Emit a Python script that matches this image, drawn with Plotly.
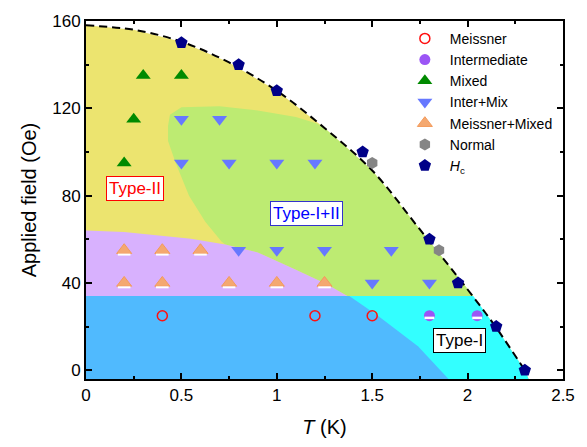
import plotly.graph_objects as go
import numpy as np

# ---------------- data ----------------
meissner_T = [0.4, 1.2, 1.5]
meissner_H = [25, 25, 25]

inter_T = [1.8, 2.05]
inter_H = [25, 25]

mixed_T = [0.2, 0.25, 0.3, 0.5]
mixed_H = [95, 115, 135, 135]

intermix_T = [0.5, 0.7, 0.5, 0.75, 1.0, 1.2, 0.8, 1.0, 1.25, 1.6, 1.5, 1.8]
intermix_H = [115, 115, 95, 95, 95, 95, 55, 55, 55, 55, 40, 40]

mm_T = [0.2, 0.4, 0.6, 0.2, 0.4, 0.75, 1.0, 1.25]
mm_H = [55, 55, 55, 40, 40, 40, 40, 40]

normal_T = [1.5, 1.85]
normal_H = [95, 55]

hc_T = [0.5, 0.8, 1.0, 1.45, 1.8, 1.95, 2.15, 2.3]
hc_H = [150, 140, 128, 100, 60, 40, 20, 0]

# dashed Hc(T) boundary, read at regular temperatures
curve_T = [0, 0.25, 0.5, 0.75, 1.0, 1.25, 1.5, 1.75, 2.0, 2.15, 2.3]
curve_H = [158, 156, 150.5, 141, 128, 111, 91.5, 64.5, 37, 19.5, 0]

# region boundaries (T, H)
yellow_T = [0] + curve_T + [2.32, 0]
yellow_H = [-4] + curve_H + [-4, -4]

green_T = [0.44, 0.50, 0.70, 0.90, 1.10, 1.21, 1.25, 1.5, 1.75, 2.0, 2.03, 1.37, 1.26, 1.1, 0.9, 0.73, 0.71, 0.625, 0.54, 0.47, 0.43, 0.43]
green_H = [117, 120.5, 121, 119, 116, 113, 111, 91.5, 64.5, 37, 34, 34, 39.5, 46, 54, 57.6, 59, 68, 80, 95, 105, 112]

purple_T = [0, 0, 0.2, 0.37, 0.55, 0.73, 0.9, 1.1, 1.26, 1.37, 1.37]
purple_H = [34, 64, 63.3, 62, 60.3, 57.6, 54, 46, 39.5, 34, 34]

cyan_T = [1.3, 1.3, 2.03, 2.15, 2.3, 2.32]
cyan_H = [-4, 34, 34, 19.5, 0, -4]

blue_T = [0, 0, 1.38, 1.53, 1.74, 1.90]
blue_H = [-4, 34, 34, 25, 11, -4]

x_ticks = [0, 0.5, 1, 1.5, 2, 2.5]
y_ticks = [0, 40, 80, 120, 160]

FONT = "Liberation Sans, Arial, sans-serif"

fig = go.Figure()


def region(T, H, color):
    fig.add_trace(go.Scatter(x=T, y=H, mode="lines", fill="toself", fillcolor=color,
                             line=dict(width=0, color=color), showlegend=False, hoverinfo="skip"))


region(yellow_T, yellow_H, "#ECE46F")
region(green_T, green_H, "#BDEB72")
region(purple_T, purple_H, "#D8B1FE")
region(cyan_T, cyan_H, "#33FFFF")
region(blue_T, blue_H, "#50BAFE")

fig.add_trace(go.Scatter(x=curve_T, y=curve_H, mode="lines", line=dict(color="black", width=2, dash="8px,5px"),
                         line_shape="spline", showlegend=False, hoverinfo="skip"))

fig.add_trace(go.Scatter(x=meissner_T, y=meissner_H, mode="markers", name="Meissner",
                         marker=dict(symbol="circle-open", size=10, color="#FF1010", line=dict(width=1.5, color="#FF1010"))))
fig.add_trace(go.Scatter(x=inter_T, y=inter_H, mode="markers", name="Intermediate",
                         marker=dict(symbol="circle", size=11, color="#9B55F5", line=dict(width=0))))
fig.add_trace(go.Scatter(x=mixed_T, y=mixed_H, mode="markers", name="Mixed",
                         marker=dict(symbol="triangle-up", size=13, color="#008A00", line=dict(width=0))))
fig.add_trace(go.Scatter(x=intermix_T, y=intermix_H, mode="markers", name="Inter+Mix",
                         marker=dict(symbol="triangle-down", size=13, color="#6678FF", line=dict(width=0))))
fig.add_trace(go.Scatter(x=mm_T, y=mm_H, mode="markers", name="Meissner+Mixed",
                         marker=dict(symbol="triangle-up", size=13, color="#F4A870", line=dict(width=1, color="#F49A5A"))))
fig.add_trace(go.Scatter(x=normal_T, y=normal_H, mode="markers", name="Normal",
                         marker=dict(symbol="hexagon", size=12, color="#858585", line=dict(width=0))))
fig.add_trace(go.Scatter(x=hc_T, y=hc_H, mode="markers", name="<i>H</i><sub>c</sub>",
                         marker=dict(symbol="pentagon", size=13, color="#000088", line=dict(width=0))))

# white inner bars of the half-filled symbols
fig.add_trace(go.Scatter(x=inter_T, y=np.array(inter_H) - 1.0, mode="markers", showlegend=False, hoverinfo="skip",
                         marker=dict(symbol="line-ew", size=7, line=dict(width=2.5, color="white"))))
fig.add_trace(go.Scatter(x=mm_T, y=np.array(mm_H) - 2.0, mode="markers", showlegend=False, hoverinfo="skip",
                         marker=dict(symbol="line-ew", size=9, line=dict(width=2, color="white"))))

annots = [
    dict(text="Type-II", x=0.256, y=83.2, color="#FF0000", border="#FF0000"),
    dict(text="Type-I+II", x=1.156, y=71.6, color="#0000FF", border="#3333CC"),
    dict(text="Type-I", x=1.955, y=13.6, color="#000000", border="#000000"),
]
for a in annots:
    fig.add_annotation(x=a["x"], y=a["y"], text=a["text"], showarrow=False,
                       font=dict(family=FONT, size=17, color=a["color"]),
                       bgcolor="white", bordercolor=a["border"], borderwidth=1, borderpad=2)

axis_common = dict(showline=True, linecolor="black", linewidth=2, mirror="allticks",
                   ticks="inside", ticklen=6, tickwidth=2, tickcolor="black",
                   showgrid=False, zeroline=False,
                   tickfont=dict(family=FONT, size=17, color="black"))

fig.update_xaxes(range=[0, 2.5], tickvals=x_ticks, ticktext=[str(v) for v in x_ticks],
                 minor=dict(ticks="inside", ticklen=3, tickwidth=2, tickcolor="black", dtick=0.25, tick0=0),
                 title=dict(text="<i>T</i> (K)", font=dict(family=FONT, size=20, color="black"), standoff=16),
                 **axis_common)
fig.update_yaxes(range=[-4, 160], tickvals=y_ticks,
                 minor=dict(ticks="inside", ticklen=3, tickwidth=2, tickcolor="black", dtick=20, tick0=0),
                 title=dict(text="Applied field (Oe)", font=dict(family=FONT, size=20, color="black"), standoff=10),
                 **axis_common)

fig.update_layout(
    width=587, height=447,
    margin=dict(l=86, r=14, t=16, b=67),
    plot_bgcolor="white", paper_bgcolor="white",
    font=dict(family=FONT, color="black"),
    legend=dict(x=0.658, y=0.995, xanchor="left", yanchor="top", bgcolor="rgba(0,0,0,0)",
                itemwidth=40,
                font=dict(family=FONT, size=14, color="black"), tracegroupgap=0),
)

fig.write_html("out.html")
